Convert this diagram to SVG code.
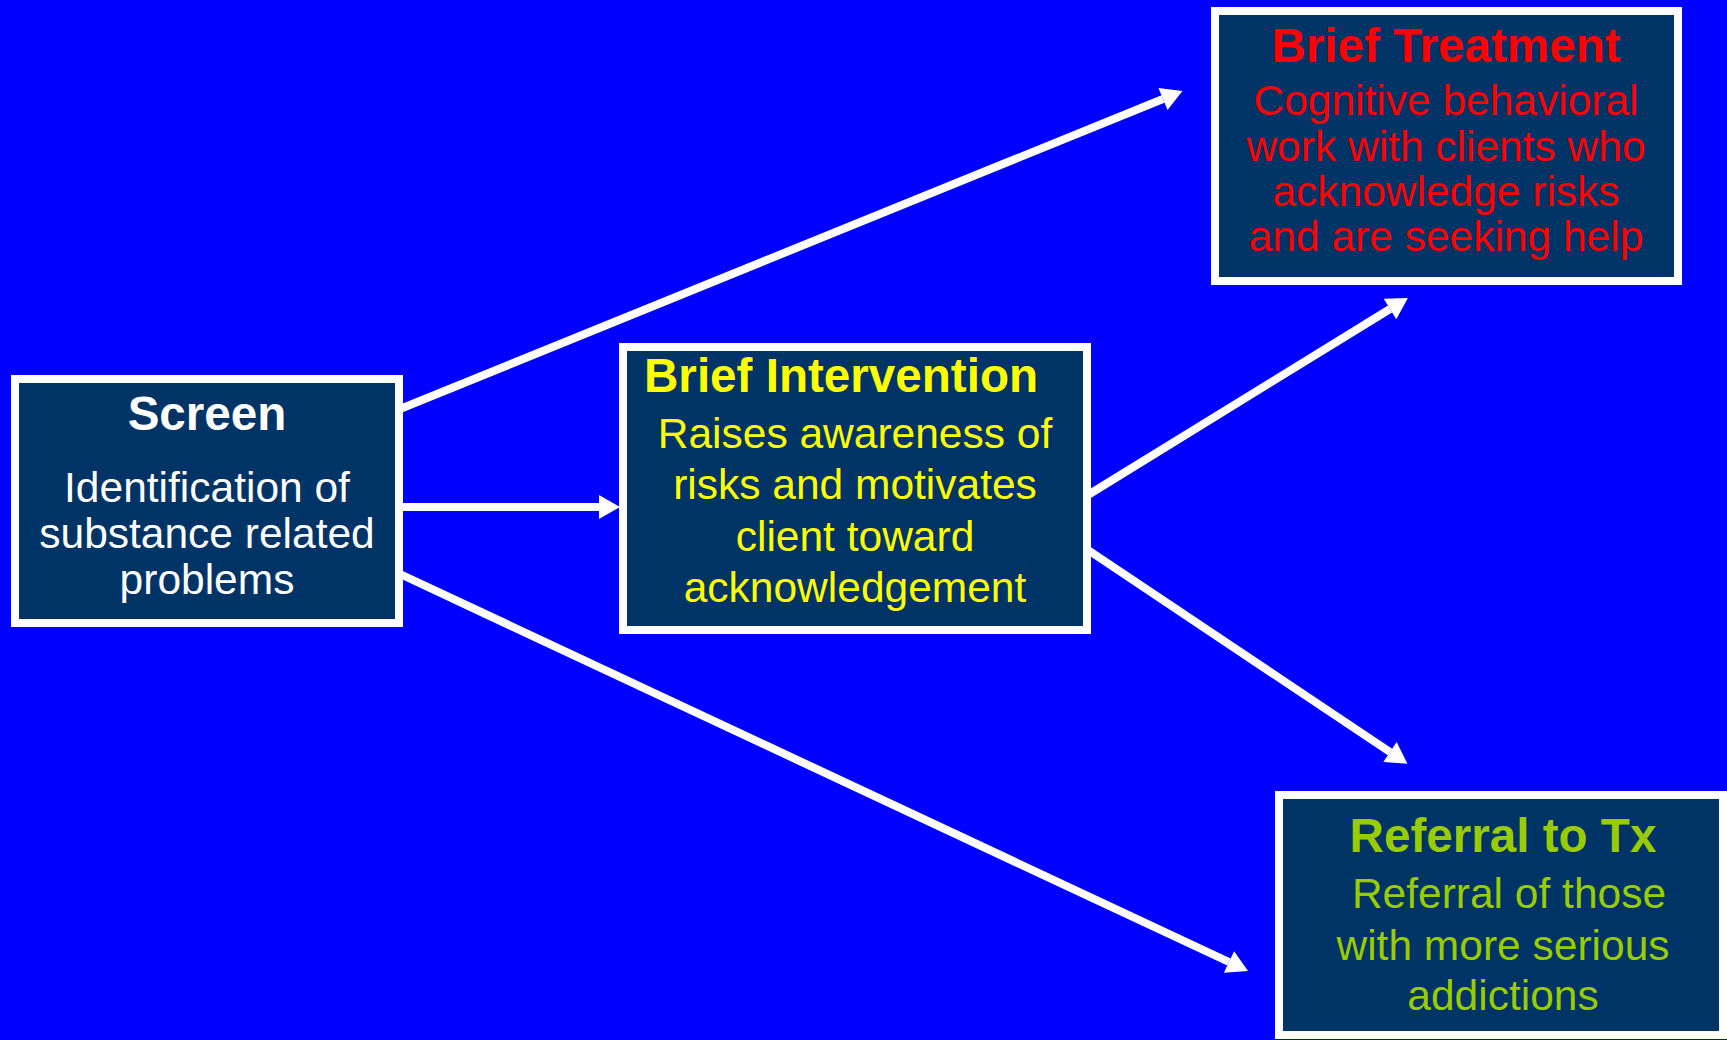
<svg xmlns="http://www.w3.org/2000/svg" width="1727" height="1040" viewBox="0 0 1727 1040">
  <style>
    .box { fill: #003366; stroke: #FFFFFF; stroke-width: 8; }
    .title { font-family: "Liberation Sans", Arial, sans-serif; font-weight: bold; font-size: 47.6px; }
    .body { font-family: "Liberation Sans", Arial, sans-serif; font-size: 42.5px; }
    .c { text-anchor: middle; }
    .white { fill: #FFFFFF; }
    .yellow { fill: #FFFF00; }
    .red { fill: #FF0000; }
    .green { fill: #99CC00; }
    .conn { stroke: #FFFFFF; stroke-width: 8; fill: none; marker-end: url(#head); }
  </style>
  <defs>
    <marker id="head" markerUnits="userSpaceOnUse" markerWidth="24" markerHeight="26" refX="0" refY="12" orient="auto" overflow="visible">
      <path d="M0,0 L21,12 L0,24 z" fill="#FFFFFF"/>
    </marker>
  </defs>
  <rect x="0" y="0" width="1727" height="1040" fill="#0000FF"/>

  <g id="connectors">
    <line class="conn" x1="400" y1="409" x2="1163" y2="99"/>
    <line class="conn" x1="400" y1="507" x2="599" y2="507"/>
    <line class="conn" x1="400" y1="574" x2="1229" y2="962"/>
    <line class="conn" x1="1088" y1="495" x2="1390" y2="309"/>
    <line class="conn" x1="1088" y1="550" x2="1390" y2="752"/>
  </g>

  <g id="screen">
    <rect class="box" x="15" y="379" width="384" height="244"/>
    <text class="title white c" x="207" y="430">Screen</text>
    <text class="body white c" x="207" y="502">Identification of</text>
    <text class="body white c" x="207" y="548">substance related</text>
    <text class="body white c" x="207" y="594">problems</text>
  </g>

  <g id="brief-intervention">
    <rect class="box" x="623" y="347" width="464" height="283"/>
    <text class="title yellow" x="644" y="392">Brief Intervention</text>
    <text class="body yellow c" x="855" y="448">Raises awareness of</text>
    <text class="body yellow c" x="855" y="499">risks and motivates</text>
    <text class="body yellow c" x="855" y="551">client toward</text>
    <text class="body yellow c" x="855" y="602">acknowledgement</text>
  </g>

  <g id="brief-treatment">
    <rect class="box" x="1215" y="11" width="463" height="270"/>
    <text class="title red c" x="1446" y="62">Brief Treatment</text>
    <text class="body red c" x="1446" y="115">Cognitive behavioral</text>
    <text class="body red c" x="1446" y="161">work with clients who</text>
    <text class="body red c" x="1446" y="206">acknowledge risks</text>
    <text class="body red c" x="1446" y="251">and are seeking help</text>
  </g>

  <g id="referral">
    <rect class="box" x="1279" y="795" width="444" height="240"/>
    <text class="title green c" x="1503" y="852">Referral to Tx</text>
    <text class="body green c" x="1509" y="908">Referral of those</text>
    <text class="body green c" x="1503" y="960">with more serious</text>
    <text class="body green c" x="1503" y="1010">addictions</text>
  </g>
</svg>
